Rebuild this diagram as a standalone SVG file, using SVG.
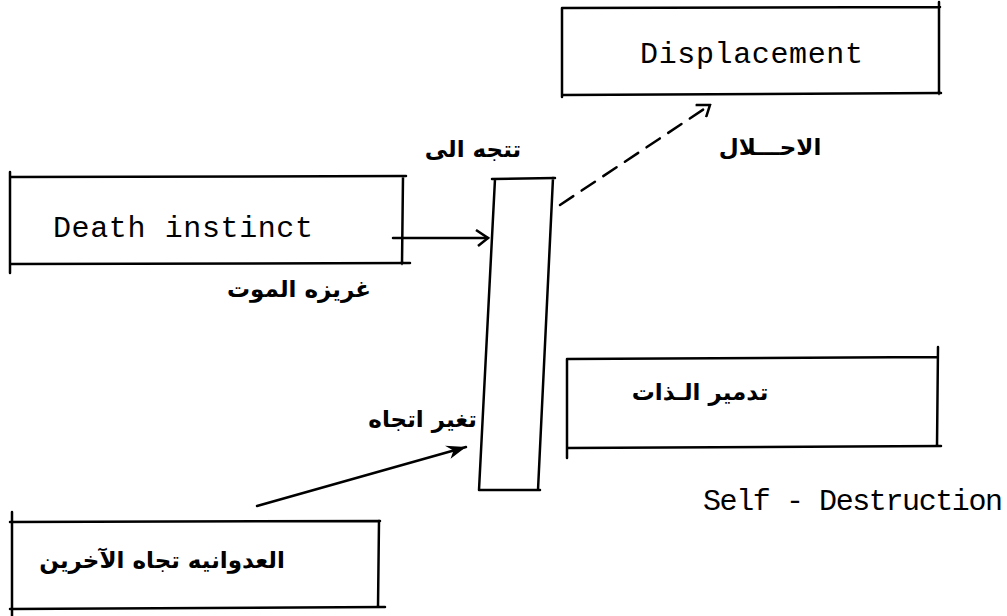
<svg xmlns="http://www.w3.org/2000/svg" width="1007" height="616" viewBox="0 0 1007 616">
<style>
.ln{fill:none;stroke:#000;stroke-width:2.5;stroke-linecap:round}
.mono{font-family:"Liberation Mono","DejaVu Sans Mono",monospace;font-size:30px;fill:#000}
.ar{font-family:"DejaVu Sans",sans-serif;font-weight:bold;font-size:23px;fill:#000}
</style>
<defs>
<marker id="open" markerWidth="16" markerHeight="18" refX="14" refY="9" orient="auto" markerUnits="userSpaceOnUse">
<path d="M2,1 L14,9 L4,17" fill="none" stroke="#000" stroke-width="2.5"/>
</marker>
<marker id="fill" markerWidth="22" markerHeight="18" refX="20" refY="9" orient="auto" markerUnits="userSpaceOnUse">
<path d="M0,2 L20,9 L2,16 L7,9 Z" fill="#000"/>
</marker>
</defs>
<g id="displacement">
<path class="ln" d="M562,8 L940,7 M939,2 L939,94 M562,8 L562,97 M562,95 L941,93"/>
<text class="mono" x="640" y="63" textLength="223" lengthAdjust="spacing">Displacement</text>
</g>
<g id="death">
<path class="ln" d="M10,177 L406,176 M10,172 L10,273 M403,177 L402,264 M10,264 L410,263"/>
<text class="mono" x="53" y="237" textLength="260" lengthAdjust="spacing">Death instinct</text>
</g>
<g id="bar">
<path class="ln" d="M492,179 L555,178 M495,179 L479,490 M553,178 L538,490 M479,490 L540,490"/>
</g>
<g id="selfdestruction">
<path class="ln" d="M567,359 L937,357 M938,347 L937,446 M567,359 L567,458 M567,448 L941,446"/>
<text class="ar" x="700" y="400" text-anchor="middle">تدمير الـذات</text>
</g>
<g id="aggression">
<path class="ln" d="M10,522 L380,521 M12,512 L12,616 M379,521 L378,607 M10,609 L385,607"/>
<text class="ar" x="162" y="568" text-anchor="middle">العدوانيه تجاه الآخرين</text>
</g>
<g id="labels">
<text class="ar" x="473" y="157" text-anchor="middle">تتجه الى</text>
<text class="ar" x="770" y="155" text-anchor="middle">الاحـــلال</text>
<text class="ar" x="299" y="297" text-anchor="middle">غريزه الموت</text>
<text class="ar" x="477" y="427" text-anchor="end">تغير اتجاه</text>
<text class="mono" x="703" y="510" font-size="27" textLength="300" lengthAdjust="spacing">Self - Destruction</text>
</g>
<g id="connectors">
<path class="ln" d="M393,238 L488,238" marker-end="url(#open)"/>
<path class="ln" d="M560,205 L710,105" stroke-dasharray="16,10" marker-end="url(#open)"/>
<path class="ln" d="M257,506 L466,447" marker-end="url(#fill)"/>
</g>
</svg>
